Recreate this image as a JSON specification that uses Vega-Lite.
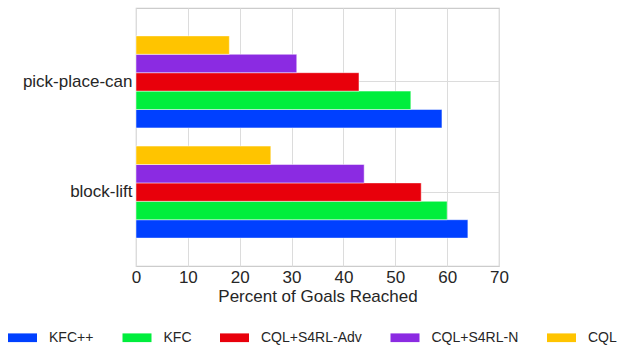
{
  "$schema": "https://vega.github.io/schema/vega-lite/v6.json",
  "autosize": {"type": "none"},
  "padding": {"left": 136, "top": 8, "right": 125, "bottom": 79},
  "width": 363,
  "height": 258,
  "config": {
    "font": "Liberation Sans",
    "view": {"stroke": "#cccccc", "strokeWidth": 1.2},
    "axis": {"gridColor": "#dcdcdc", "gridWidth": 1, "domain": false, "ticks": false, "labelColor": "#262626", "titleColor": "#262626", "labelFontSize": 17, "titleFontSize": 17, "titleFontWeight": "normal"}
  },
  "data": {
    "values": [
      {"task": "pick-place-can", "method": "KFC++", "value": 59},
      {"task": "pick-place-can", "method": "KFC", "value": 53},
      {"task": "pick-place-can", "method": "CQL+S4RL-Adv", "value": 43},
      {"task": "pick-place-can", "method": "CQL+S4RL-N", "value": 31},
      {"task": "pick-place-can", "method": "CQL", "value": 18},
      {"task": "block-lift", "method": "KFC++", "value": 64},
      {"task": "block-lift", "method": "KFC", "value": 60},
      {"task": "block-lift", "method": "CQL+S4RL-Adv", "value": 55},
      {"task": "block-lift", "method": "CQL+S4RL-N", "value": 44},
      {"task": "block-lift", "method": "CQL", "value": 26}
    ]
  },
  "mark": {"type": "bar", "stroke": "white", "strokeWidth": 0.8, "strokeOpacity": 0.6},
  "encoding": {
    "y": {
      "field": "task", "type": "nominal",
      "sort": ["pick-place-can", "block-lift"],
      "scale": {"paddingInner": 0.165, "paddingOuter": 0.253},
      "axis": {"title": null, "grid": true, "bandPosition": 0.5, "labelPadding": 4}
    },
    "yOffset": {
      "field": "method", "type": "nominal",
      "sort": ["CQL", "CQL+S4RL-N", "CQL+S4RL-Adv", "KFC", "KFC++"],
      "scale": {"paddingInner": 0, "paddingOuter": 0}
    },
    "x": {
      "field": "value", "type": "quantitative",
      "scale": {"domain": [0, 70], "nice": false},
      "axis": {"title": "Percent of Goals Reached", "values": [0, 10, 20, 30, 40, 50, 60, 70], "labelFlush": false, "labelPadding": 3, "titlePadding": 3, "grid": true}
    },
    "color": {
      "field": "method", "type": "nominal",
      "scale": {
        "domain": ["KFC++", "KFC", "CQL+S4RL-Adv", "CQL+S4RL-N", "CQL"],
        "range": ["#0040ff", "#00ee3c", "#e8000b", "#8b2be2", "#ffc400"]
      },
      "legend": {
        "title": null, "orient": "none", "direction": "horizontal", "columns": 5,
        "legendX": -128, "legendY": 315, "padding": 0,
        "symbolType": "M-1,-0.3H1V0.3H-1Z", "symbolSize": 841, "symbolStrokeWidth": 0,
        "labelFontSize": 14, "labelColor": "#262626", "labelOffset": 12,
        "columnPadding": 28.5, "labelLimit": 200
      }
    }
  }
}
